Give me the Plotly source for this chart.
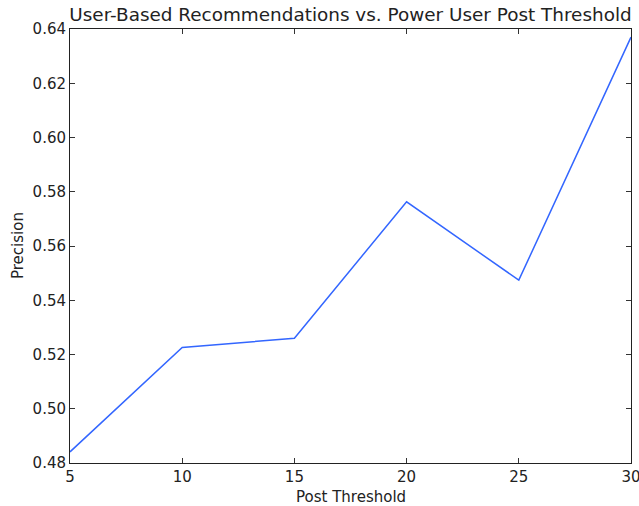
import plotly.graph_objects as go

thresholds = [5, 10, 15, 20, 25, 30]
precision = [0.4841, 0.5226, 0.5260, 0.5763, 0.5474, 0.6370]
x_ticks = [5, 10, 15, 20, 25, 30]
y_ticks = [0.48, 0.50, 0.52, 0.54, 0.56, 0.58, 0.60, 0.62, 0.64]

L, R, T, B = 70, 631, 29, 463
W, H = 639, 506
pw, ph = R - L, B - T

fig = go.Figure()
fig.add_trace(go.Scatter(x=thresholds, y=precision, mode="lines", cliponaxis=False,
                         line=dict(color="rgb(51,102,255)", width=1.5)))

axis_common = dict(showgrid=False, zeroline=False, ticks="inside", ticklen=5,
                   tickcolor="#333", showline=True, linecolor="#222", linewidth=1,
                   mirror="ticks", tickfont=dict(size=15, color="#222"),
                   automargin=False, ticklabeloverflow="allow")

fig.update_layout(
    width=W, height=H,
    margin=dict(l=L, r=W - R, t=T, b=H - B),
    paper_bgcolor="white", plot_bgcolor="white",
    font=dict(family="DejaVu Sans", color="#222"),
    showlegend=False,
    title=dict(text="User-Based Recommendations vs. Power User Post Threshold",
               x=(L + R) / 2 / W, xanchor="center", y=1 - 15 / H, yanchor="middle",
               font=dict(size=18.4, color="#222"), automargin=False),
    xaxis=dict(range=[5, 30], tickvals=x_ticks, ticktext=[str(v) for v in x_ticks],
               **axis_common),
    yaxis=dict(range=[0.48, 0.64], tickvals=y_ticks, ticktext=[f"{v:.2f}" for v in y_ticks],
               **axis_common),
    annotations=[
        dict(text="Post Threshold", xref="paper", yref="paper", x=0.5,
             y=(B - 497) / ph, xanchor="center", yanchor="middle", showarrow=False,
             font=dict(size=15, color="#222")),
        dict(text="Precision", xref="paper", yref="paper", x=(18 - L) / pw,
             y=0.5, xanchor="center", yanchor="middle", showarrow=False, textangle=-90,
             font=dict(size=15, color="#222")),
    ],
)

fig.write_html("out.html", config={"displayModeBar": False},
               post_script="document.body.style.margin='0';document.body.style.overflow='hidden';")
